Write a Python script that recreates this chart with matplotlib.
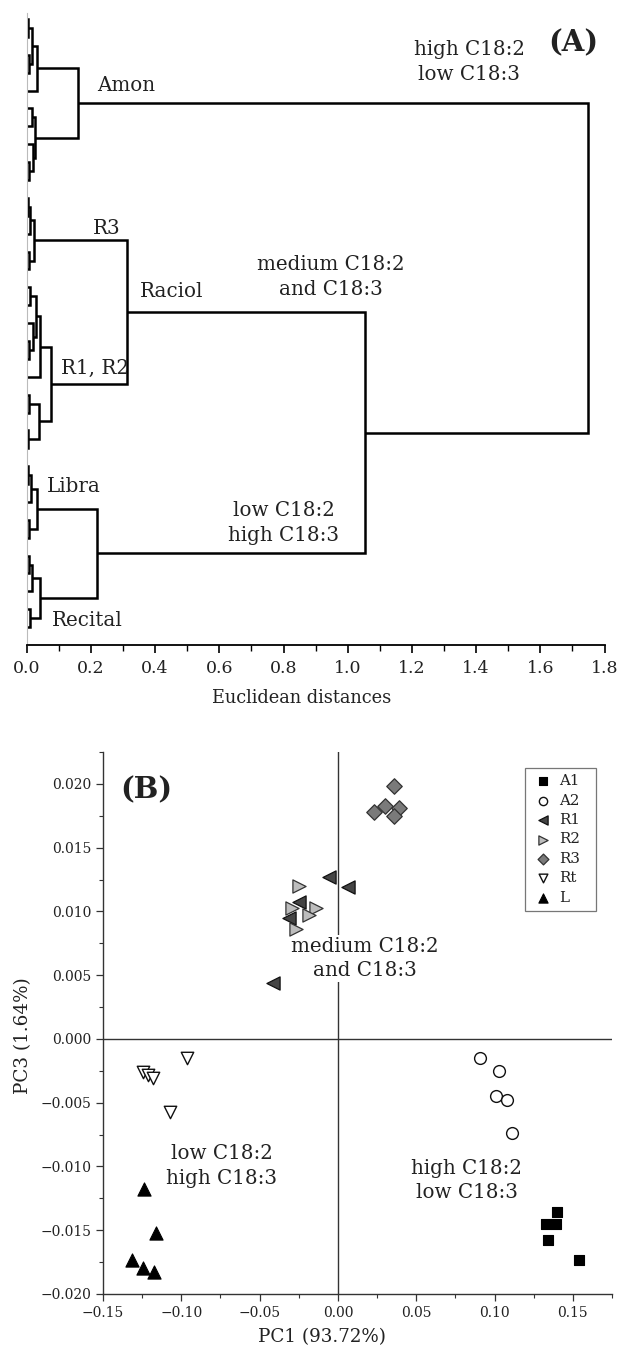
import numpy as np
import matplotlib
matplotlib.use("Agg")
from matplotlib import pyplot as plt
from matplotlib.ticker import MultipleLocator, FuncFormatter

plt.rcParams['font.family'] = ['DejaVu Serif']
TXT = '#222222'

# ---- (A) dendrogram: leaves numbered top to bottom, node = (height, upper, lower)
amon_tree = (0.160,
             (0.031, (0.018, (0.004, 0, 1), (0.007, 2, 3)), 4),
             (0.026, (0.015, 5, 6), (0.020, 7, (0.008, 8, 9))))
r3_tree = (0.022, (0.010, (0.004, 10, 11), 12), (0.006, 13, 14))
r1_r2_tree = (0.077,
              (0.041, (0.030, (0.010, 15, 16), (0.020, 17, (0.006, 18, 19))), 20),
              (0.038, (0.006, 21, 22), (0.004, 23, 24)))
libra_tree = (0.031, (0.012, (0.005, 25, 26), 27), (0.008, 28, 29))
recital_tree = (0.041, (0.015, (0.006, 30, 31), 32), (0.010, 33, 34))
raciol_tree = (0.311, r3_tree, r1_r2_tree)
libra_recital_tree = (0.220, libra_tree, recital_tree)
medium_low_tree = (1.055, raciol_tree, libra_recital_tree)
full_tree = (1.748, amon_tree, medium_low_tree)
n_leaves = 35

# ---- (B) PCA scores (PC1, PC3)
groups = ['A1', 'A2', 'R1', 'R2', 'R3', 'Rt', 'L']
a1_x = [0.140, 0.133, 0.139, 0.134, 0.154]
a1_y = [-0.0136, -0.0145, -0.0145, -0.0158, -0.0173]
a2_x = [0.091, 0.103, 0.101, 0.108, 0.111]
a2_y = [-0.0015, -0.0025, -0.0045, -0.0048, -0.0074]
r1_x = [-0.0055, 0.0062, -0.0247, -0.0311, -0.0417]
r1_y = [0.0127, 0.0119, 0.0107, 0.0095, 0.0044]
r2_x = [-0.0247, -0.0296, -0.0140, -0.0183, -0.0268]
r2_y = [0.0120, 0.0103, 0.0103, 0.0097, 0.0086]
r3_x = [0.036, 0.030, 0.023, 0.039, 0.036]
r3_y = [0.0198, 0.0183, 0.0178, 0.0181, 0.0175]
rt_x = [-0.0966, -0.1247, -0.1215, -0.1183, -0.1073]
rt_y = [-0.0015, -0.0026, -0.0028, -0.0031, -0.0057]
l_x = [-0.1241, -0.1160, -0.1315, -0.1247, -0.1173]
l_y = [-0.0118, -0.0152, -0.0173, -0.0180, -0.0183]


def draw_node(ax, node):
    # returns (y position, height) of the node after drawing its links
    if not isinstance(node, tuple):
        return float(node), 0.0
    h, up, lo = node
    y1, h1 = draw_node(ax, up)
    y2, h2 = draw_node(ax, lo)
    ax.plot([h1, h, h, h2], [y1, y1, y2, y2], color='black', lw=1.8,
            solid_joinstyle='miter', solid_capstyle='butt')
    return (y1 + y2) / 2, h


def minus_fmt(dec):
    def f(v, pos):
        s = ('{:.%df}' % dec).format(v)
        if float(s) == 0:
            s = s.lstrip('-')
        return s.replace('-', '\u2212')
    return FuncFormatter(f)


fig = plt.figure(figsize=(6.18, 13.52), dpi=100)

# ================= (A)
ax1 = fig.add_axes([0.0432, 0.5229, 0.935, 0.4675])
draw_node(ax1, full_tree)
ax1.set_xlim(0, 1.8)
ax1.set_ylim(n_leaves, -0.34)
for s in ['top', 'right']:
    ax1.spines[s].set_visible(False)
ax1.spines['left'].set_color('#bbbbbb')
ax1.spines['left'].set_linewidth(0.8)
ax1.spines['bottom'].set_linewidth(1.3)
ax1.set_yticks([])
ax1.xaxis.set_major_locator(MultipleLocator(0.2))
ax1.xaxis.set_minor_locator(MultipleLocator(0.1))
ax1.xaxis.set_major_formatter(minus_fmt(1))
ax1.tick_params(axis='x', which='major', direction='out', length=6, width=1.2,
                labelsize=12.5, labelcolor=TXT, pad=5)
ax1.tick_params(axis='x', which='minor', direction='out', length=4, width=1.0)
ax1.set_xlabel('Euclidean distances', fontsize=12.8, color=TXT)
ax1.xaxis.set_label_coords(0.475, -0.069)

fs = 14.3
ls = 1.38
ax1.text(0.219, 3.74, 'Amon', fontsize=fs, color=TXT, ha='left', va='center')
ax1.text(0.249, 11.73, 'R3', fontsize=fs, color=TXT, ha='center', va='center')
ax1.text(0.353, 15.25, 'Raciol', fontsize=fs, color=TXT, ha='left', va='center')
ax1.text(0.107, 19.55, 'R1, R2', fontsize=fs, color=TXT, ha='left', va='center')
ax1.text(0.063, 26.15, 'Libra', fontsize=fs, color=TXT, ha='left', va='center')
ax1.text(0.079, 33.63, 'Recital', fontsize=fs, color=TXT, ha='left', va='center')
ax1.text(1.378, 2.40, 'high C18:2\nlow C18:3', fontsize=fs, color=TXT,
         ha='center', va='center', linespacing=ls)
ax1.text(0.948, 14.44, 'medium C18:2\nand C18:3', fontsize=fs, color=TXT,
         ha='center', va='center', linespacing=ls)
ax1.text(0.801, 28.16, 'low C18:2\nhigh C18:3', fontsize=fs, color=TXT,
         ha='center', va='center', linespacing=ls)
ax1.text(1.78, 1.34, '(A)', fontsize=21, fontweight='bold', color=TXT,
         ha='right', va='center')

# ================= (B)
ax2 = fig.add_axes([0.1667, 0.0429, 0.8236, 0.4009])
ax2.set_xlim(-0.15, 0.175)
ax2.set_ylim(-0.020, 0.0225)
ax2.axhline(0, color='#333333', lw=1.0, zorder=1)
ax2.axvline(0, color='#333333', lw=1.0, zorder=1)

ax2.scatter(a1_x, a1_y, marker='s', s=60, facecolor='black', edgecolor='black',
            linewidth=0.8, zorder=3, label='A1')
ax2.scatter(a2_x, a2_y, marker='o', s=72, facecolor='white', edgecolor='#111111',
            linewidth=1.0, zorder=3, label='A2')
ax2.scatter(r1_x, r1_y, marker='<', s=90, facecolor='#444444', edgecolor='#111111',
            linewidth=0.9, zorder=3, label='R1')
ax2.scatter(r2_x, r2_y, marker='>', s=90, facecolor='#bdbdbd', edgecolor='#333333',
            linewidth=0.9, zorder=3, label='R2')
ax2.scatter(r3_x, r3_y, marker='D', s=62, facecolor='#7a7a7a', edgecolor='#333333',
            linewidth=0.9, zorder=3, label='R3')
ax2.scatter(rt_x, rt_y, marker='v', s=80, facecolor='white', edgecolor='#111111',
            linewidth=1.0, zorder=3, label='Rt')
ax2.scatter(l_x, l_y, marker='^', s=90, facecolor='black', edgecolor='black',
            linewidth=0.8, zorder=3, label='L')

for s in ['top', 'right']:
    ax2.spines[s].set_visible(False)
for s in ['left', 'bottom']:
    ax2.spines[s].set_color('#333333')
    ax2.spines[s].set_linewidth(1.0)
ax2.xaxis.set_major_locator(MultipleLocator(0.05))
ax2.xaxis.set_minor_locator(MultipleLocator(0.025))
ax2.yaxis.set_major_locator(MultipleLocator(0.005))
ax2.yaxis.set_minor_locator(MultipleLocator(0.0025))
ax2.xaxis.set_major_formatter(minus_fmt(2))
ax2.yaxis.set_major_formatter(minus_fmt(3))
ax2.tick_params(which='major', direction='out', length=5, width=0.9,
                labelsize=10, labelcolor=TXT, color='#333333')
ax2.tick_params(which='minor', direction='out', length=3, width=0.8, color='#333333')
ax2.set_xlabel('PC1 (93.72%)', fontsize=13.2, color=TXT)
ax2.set_ylabel('PC3 (1.64%)', fontsize=13.2, color=TXT)
ax2.xaxis.set_label_coords(0.43, -0.062)
ax2.yaxis.set_label_coords(-0.14, 0.477)

ax2.text(0.0172, 0.00631, 'medium C18:2\nand C18:3', fontsize=fs, color=TXT,
         ha='center', va='center', linespacing=ls, zorder=2,
         bbox=dict(facecolor='white', edgecolor='none', pad=1))
ax2.text(-0.0743, -0.00996, 'low C18:2\nhigh C18:3', fontsize=fs, color=TXT,
         ha='center', va='center', linespacing=ls)
ax2.text(0.0824, -0.0111, 'high C18:2\nlow C18:3', fontsize=fs, color=TXT,
         ha='center', va='center', linespacing=ls)
ax2.text(-0.139, 0.0195, '(B)', fontsize=21, fontweight='bold', color=TXT,
         ha='left', va='center')

leg = ax2.legend(loc='upper left', bbox_to_anchor=(0.829, 0.9705, 0.1395, 0.0),
                 mode='expand', fontsize=10.8, markerscale=0.7, frameon=True,
                 fancybox=False, handletextpad=0.35, labelspacing=0.36,
                 borderpad=0.42, handlelength=1.5, borderaxespad=0)
leg.get_frame().set_edgecolor('#555555')
leg.get_frame().set_linewidth(0.9)
for t in leg.get_texts():
    t.set_color(TXT)

fig.savefig('out.png', dpi=100)
